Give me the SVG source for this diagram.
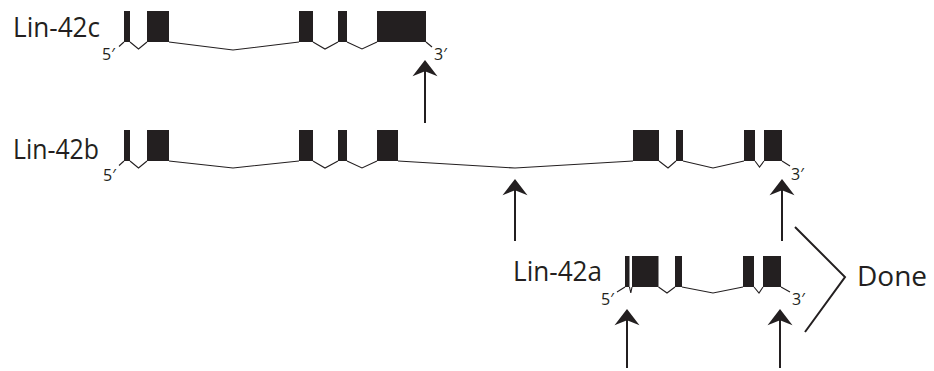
<svg xmlns="http://www.w3.org/2000/svg" width="934" height="371" viewBox="0 0 934 371">
  <style>
    .exon { fill: #231f20; }
    .intron { fill: none; stroke: #231f20; stroke-width: 1.1; stroke-linejoin: miter; }
    .label { font-family: "Open Sans", "Noto Sans", "Liberation Sans", sans-serif; font-size: 28px; fill: #231f20; }
    .end { font-family: "Open Sans", "Noto Sans", "DejaVu Sans", sans-serif; font-size: 16px; fill: #231f20; }
    .arrow { fill: none; stroke: #231f20; stroke-width: 2; marker-end: url(#head); }
    .bracket { fill: none; stroke: #231f20; stroke-width: 2; }
  </style>
  <defs>
    <marker id="head" markerUnits="userSpaceOnUse" markerWidth="30" markerHeight="30" viewBox="-12 -12 24 24" refX="0" refY="0" orient="auto">
      <path d="M4,0 L-9,-10 L-5,0 L-9,10 Z" fill="#231f20"/>
    </marker>
  </defs>

  <!-- Lin-42c isoform -->
  <g id="lin42c">
    <text class="label" x="13" y="36.5" textLength="87" lengthAdjust="spacingAndGlyphs">Lin-42c</text>
    <rect class="exon" x="124" y="11" width="6" height="31"/>
    <rect class="exon" x="147" y="11" width="22" height="31"/>
    <rect class="exon" x="299" y="11" width="14" height="31"/>
    <rect class="exon" x="338" y="11" width="9" height="31"/>
    <rect class="exon" x="377" y="11" width="49" height="31"/>
    <polyline class="intron" points="119,46.5 124,42"/>
    <polyline class="intron" points="130,42 138.5,49 147,42"/>
    <polyline class="intron" points="169,42 233,50 299,42"/>
    <polyline class="intron" points="313,42 325,49 338,42"/>
    <polyline class="intron" points="347,42 362,49 377,42"/>
    <polyline class="intron" points="426,42 432,47"/>
    <text class="end" x="102" y="60">5′</text>
    <text class="end" x="434" y="60">3′</text>
  </g>

  <!-- Lin-42b isoform -->
  <g id="lin42b">
    <text class="label" x="13" y="159" textLength="86" lengthAdjust="spacingAndGlyphs">Lin-42b</text>
    <rect class="exon" x="124" y="130" width="6" height="31"/>
    <rect class="exon" x="147" y="130" width="22" height="31"/>
    <rect class="exon" x="299" y="130" width="14" height="31"/>
    <rect class="exon" x="338" y="130" width="9" height="31"/>
    <rect class="exon" x="377" y="130" width="21" height="31"/>
    <rect class="exon" x="633" y="130" width="26" height="31"/>
    <rect class="exon" x="676" y="130" width="7" height="31"/>
    <rect class="exon" x="744" y="130" width="11" height="31"/>
    <rect class="exon" x="764" y="130" width="18" height="31"/>
    <polyline class="intron" points="119,165.5 124,161"/>
    <polyline class="intron" points="130,161 138.5,168 147,161"/>
    <polyline class="intron" points="169,161 233,168 299,161"/>
    <polyline class="intron" points="313,161 325,168 338,161"/>
    <polyline class="intron" points="347,161 362,168 377,161"/>
    <polyline class="intron" points="398,161 515,168 633,161"/>
    <polyline class="intron" points="659,161 668,168 676,161"/>
    <polyline class="intron" points="683,161 713,168 744,161"/>
    <polyline class="intron" points="755,161 759.5,167 764,161"/>
    <polyline class="intron" points="782,161 790,166"/>
    <text class="end" x="103" y="181">5′</text>
    <text class="end" x="791" y="180">3′</text>
  </g>

  <!-- Lin-42a isoform -->
  <g id="lin42a">
    <text class="label" x="513" y="280.5" textLength="89" lengthAdjust="spacingAndGlyphs">Lin-42a</text>
    <rect class="exon" x="625" y="256" width="4.5" height="31"/>
    <rect class="exon" x="632" y="256" width="26.5" height="31"/>
    <rect class="exon" x="675" y="256" width="7" height="31"/>
    <rect class="exon" x="743" y="256" width="11" height="31"/>
    <rect class="exon" x="763" y="256" width="18" height="31"/>
    <polyline class="intron" points="617,292 625,287"/>
    <polyline class="intron" points="629.5,287 630.8,293 632,287"/>
    <polyline class="intron" points="658.5,287 667,293 675,287"/>
    <polyline class="intron" points="682,287 713,293 743,287"/>
    <polyline class="intron" points="754,287 759,293 763,287"/>
    <polyline class="intron" points="781,287 790,292"/>
    <text class="end" x="601" y="305">5′</text>
    <text class="end" x="792" y="305">3′</text>
  </g>

  <!-- Done bracket -->
  <g id="done">
    <polyline class="bracket" points="795,227 845,277 805,332"/>
    <text class="label" x="857" y="286">Done</text>
  </g>

  <!-- Arrows -->
  <g id="connectors">
    <line class="arrow" x1="425" y1="123" x2="425" y2="65"/>
    <line class="arrow" x1="515" y1="241" x2="515" y2="184"/>
    <line class="arrow" x1="782" y1="241" x2="782" y2="184"/>
    <line class="arrow" x1="627" y1="368" x2="627" y2="314"/>
    <line class="arrow" x1="780" y1="368" x2="780" y2="314"/>
  </g>
</svg>
